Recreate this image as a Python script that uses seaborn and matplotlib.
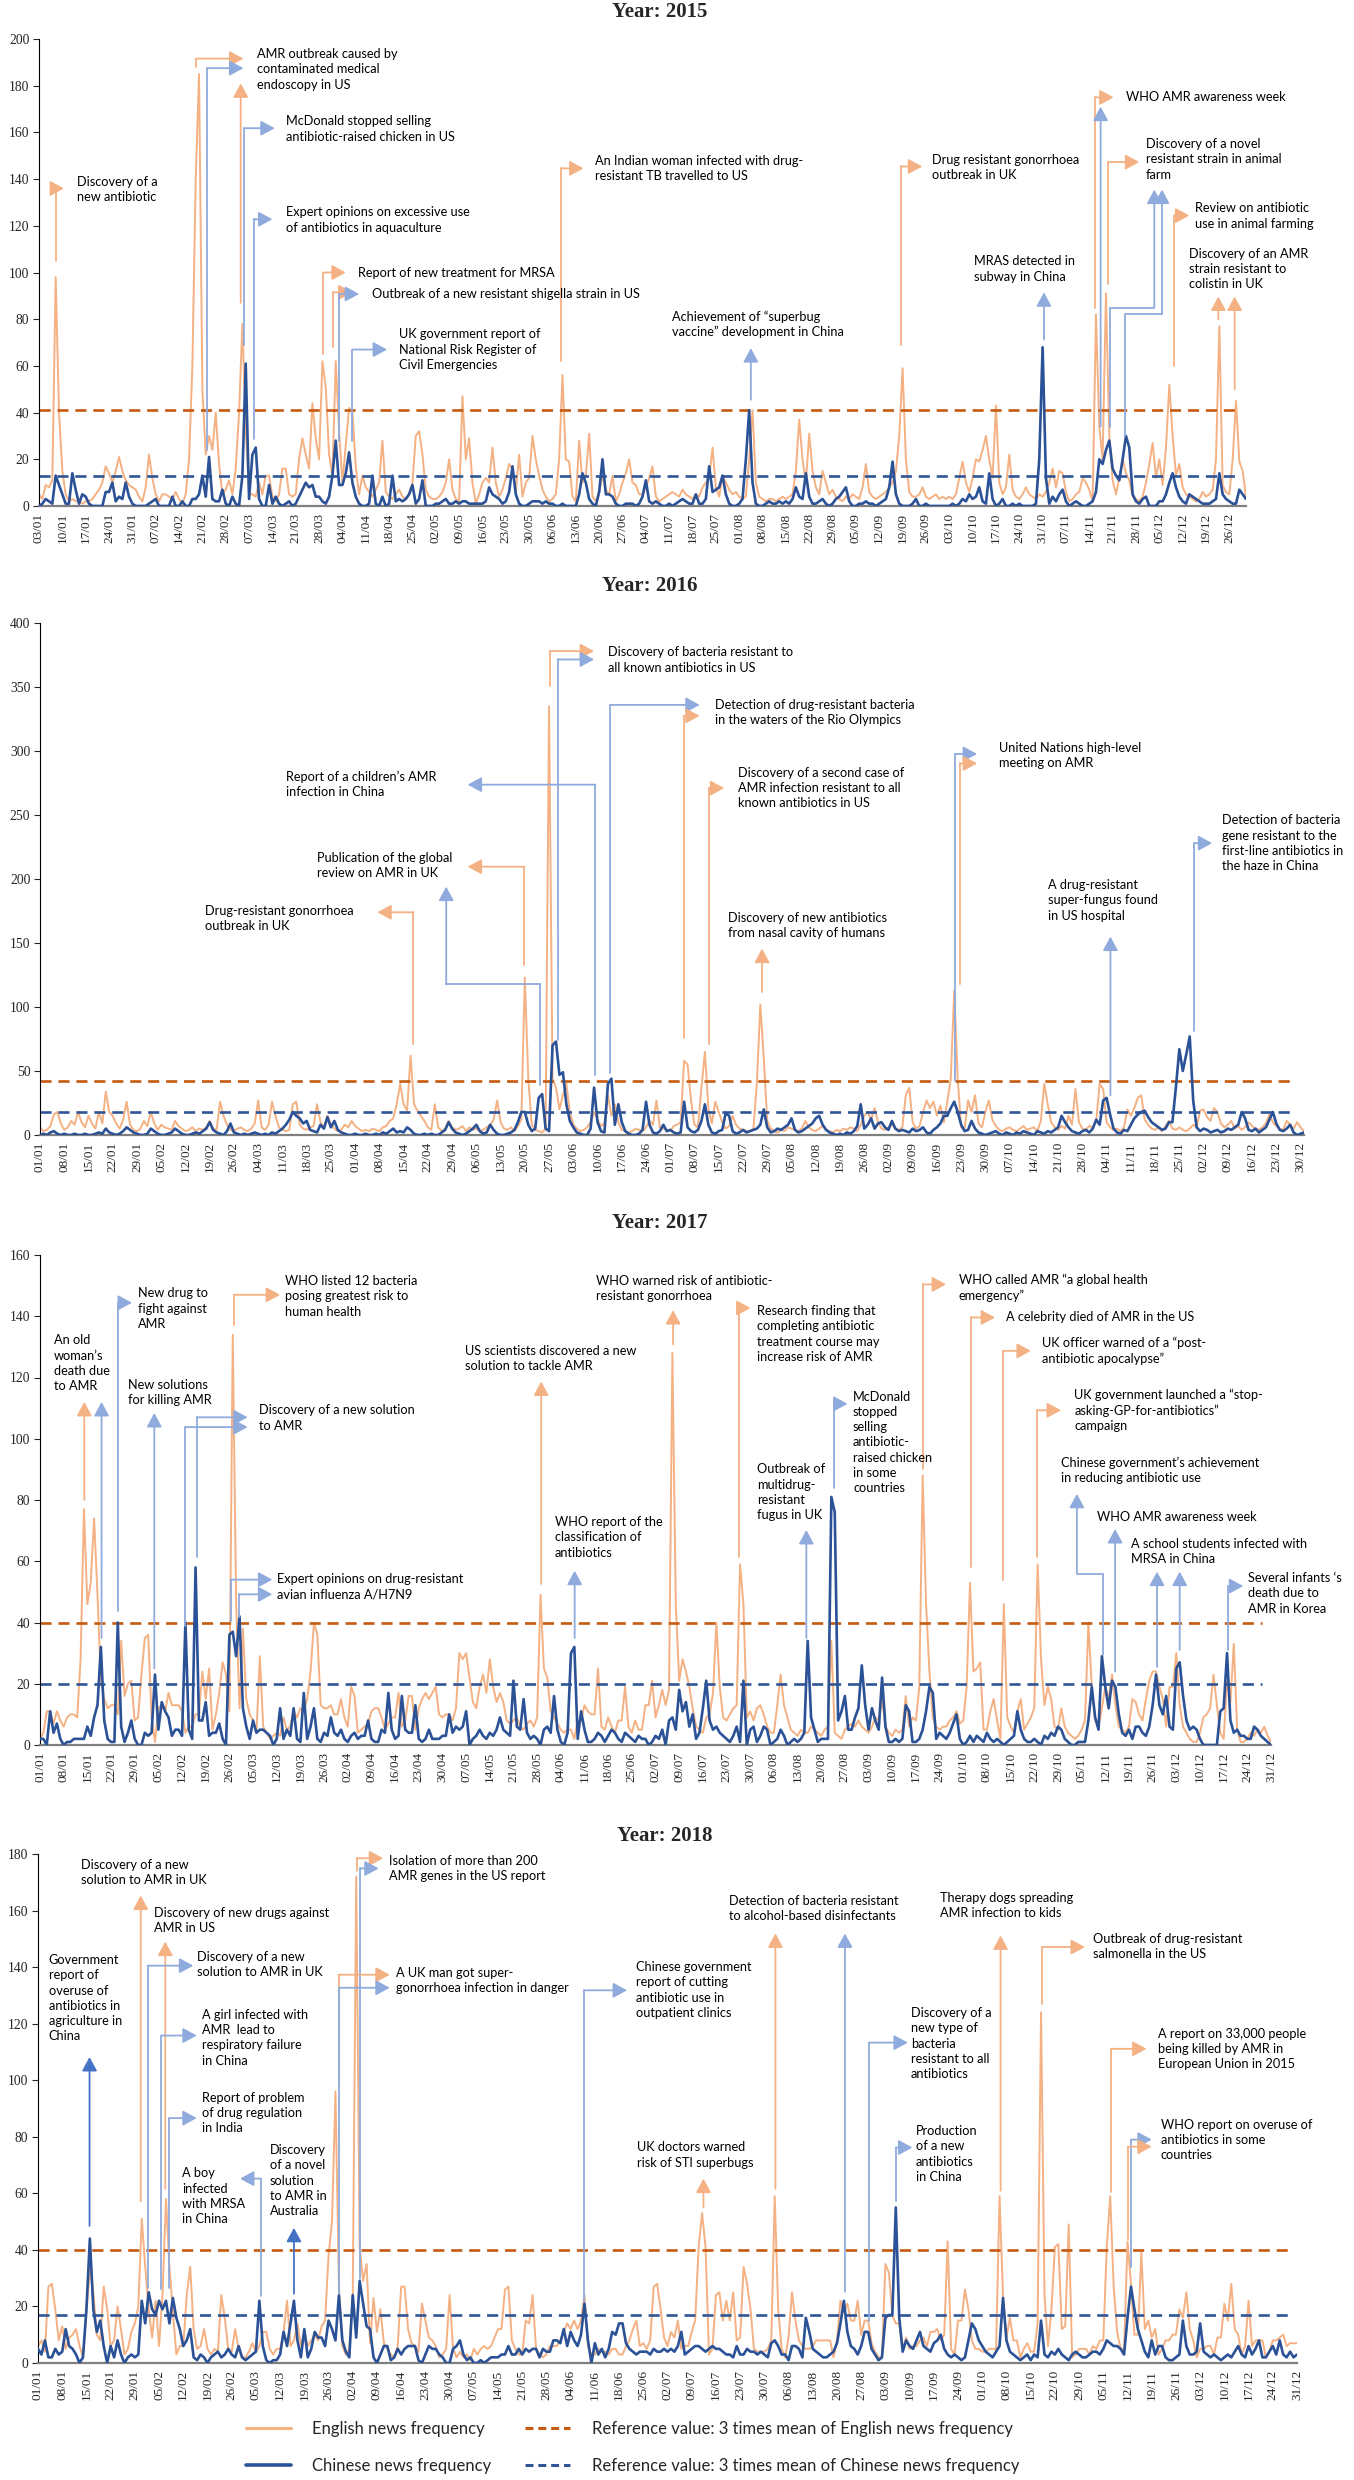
import numpy as np
import pandas as pd
import matplotlib
matplotlib.use("Agg")
import matplotlib.pyplot as plt
import matplotlib.dates as mdates
from matplotlib.lines import Line2D
import seaborn as sns

sns.set_style("white")
plt.rcParams["font.family"] = ["Liberation Serif", "DejaVu Serif"]

# ---- daily news counts ----
# 2015 starts on 03/01, the other years on 01/01
eng_2015 = [
    5, 3, 9, 8, 11, 98, 40, 15, 5, 2,   3, 2, 2, 1, 2, 2, 3, 5, 7, 10,
    17, 14, 10, 15, 21, 15, 11, 9, 8, 7,   4, 2, 8, 22, 12, 5, 2, 5, 5, 4,
    3, 6, 3, 1, 5, 20, 60, 140, 185, 50,   22, 30, 24, 40, 18, 5, 7, 11, 5, 16,
    40, 78, 33, 5, 5, 4, 10, 5, 13, 13,   4, 2, 5, 16, 16, 5, 4, 5, 20, 29,
    22, 16, 44, 29, 20, 62, 51, 22, 13, 62,   32, 10, 26, 42, 40, 17, 5, 13, 8, 6,
    4, 7, 10, 28, 6, 4, 3, 5, 7, 4,   3, 5, 10, 30, 32, 22, 7, 4, 3, 3,
    4, 6, 10, 20, 7, 3, 2, 47, 20, 29,   10, 1, 5, 10, 12, 10, 25, 10, 4, 7,
    12, 18, 16, 6, 22, 4, 10, 12, 30, 20,   13, 7, 4, 2, 3, 5, 20, 56, 20, 19,
    4, 2, 28, 10, 13, 31, 4, 2, 6, 13,   7, 5, 13, 2, 5, 10, 14, 20, 10, 9,
    5, 5, 8, 12, 17, 4, 2, 3, 4, 5,   6, 5, 4, 7, 5, 4, 3, 5, 4, 8,
    10, 12, 25, 8, 4, 13, 10, 7, 5, 6,   4, 3, 4, 20, 41, 10, 4, 3, 2, 3,
    3, 2, 3, 4, 3, 4, 5, 15, 37, 20,   10, 31, 15, 8, 5, 15, 10, 5, 7, 4,
    3, 2, 4, 3, 5, 4, 3, 8, 18, 6,   4, 3, 4, 5, 6, 8, 10, 15, 30, 59,
    20, 6, 4, 4, 5, 8, 4, 3, 4, 5,   3, 4, 3, 4, 3, 5, 12, 19, 10, 6,
    12, 20, 19, 24, 30, 20, 12, 43, 10, 5,   8, 22, 7, 4, 3, 5, 8, 5, 4, 3,
    5, 4, 6, 10, 16, 8, 15, 14, 6, 2,   3, 5, 6, 12, 10, 7, 2, 82, 34, 20,
    91, 30, 11, 5, 12, 20, 14, 11, 4, 3,   2, 4, 10, 18, 27, 12, 20, 9, 25, 52,
    30, 13, 18, 8, 5, 4, 3, 2, 3, 6,   4, 5, 7, 20, 77, 9, 6, 5, 20, 45,
    19, 15, 4,
]
chn_2015 = [
    0, 1, 3, 2, 1, 13, 9, 5, 1, 1,   14, 7, 1, 5, 4, 1, 0, 0, 0, 0,
    6, 6, 10, 2, 4, 3, 10, 4, 1, 0,   0, 0, 0, 1, 2, 3, 0, 0, 0, 0,
    4, 0, 0, 2, 0, 0, 3, 3, 5, 13,   4, 21, 3, 2, 2, 7, 1, 0, 4, 1,
    0, 13, 61, 3, 22, 25, 3, 0, 0, 9,   1, 4, 1, 0, 1, 2, 0, 1, 4, 7,
    10, 8, 9, 4, 4, 2, 1, 4, 13, 28,   9, 9, 14, 23, 10, 4, 1, 0, 0, 1,
    13, 1, 0, 4, 0, 1, 13, 2, 3, 2,   3, 5, 9, 1, 3, 11, 0, 0, 0, 1,
    1, 2, 3, 1, 1, 2, 1, 2, 2, 1,   1, 1, 1, 1, 2, 8, 5, 4, 3, 1,
    2, 6, 17, 5, 1, 0, 0, 1, 2, 2,   2, 1, 2, 1, 1, 0, 0, 1, 0, 0,
    0, 0, 5, 14, 10, 3, 1, 0, 6, 20,   5, 5, 4, 1, 0, 0, 1, 1, 1, 0,
    1, 4, 11, 2, 1, 2, 1, 0, 0, 1,   0, 1, 2, 3, 2, 1, 1, 5, 1, 1,
    3, 17, 6, 7, 8, 13, 5, 1, 0, 0,   1, 3, 20, 41, 10, 1, 0, 0, 1, 2,
    1, 1, 2, 1, 2, 1, 3, 8, 4, 3,   14, 4, 1, 1, 2, 3, 1, 0, 1, 3,
    4, 6, 8, 2, 0, 0, 1, 1, 2, 1,   1, 0, 1, 2, 3, 8, 19, 5, 1, 0,
    0, 0, 1, 3, 0, 0, 1, 0, 0, 0,   0, 0, 0, 0, 1, 0, 1, 3, 2, 5,
    3, 4, 8, 2, 1, 14, 3, 0, 1, 3,   0, 0, 1, 0, 1, 0, 0, 0, 0, 1,
    20, 68, 12, 1, 4, 2, 5, 7, 2, 0,   1, 2, 1, 0, 0, 1, 2, 6,
    20, 18, 24, 28, 16, 13, 11, 20, 30, 25,   5, 2, 1, 3, 4, 0, 0, 0, 2, 2,
    5, 10, 14, 8, 4, 2, 1, 5, 4, 3,   2, 1, 1, 1, 2, 3, 14, 5, 3, 2,
    1, 1, 7, 5, 3,
]
eng_2016 = [
    6, 3, 4, 7, 16, 18, 9, 4, 6, 11,   8, 18, 10, 6, 15, 9, 5, 18, 9, 34,
    18, 15, 9, 5, 12, 26, 8, 4, 3, 5,   11, 7, 18, 9, 4, 8, 6, 5, 4, 11,
    7, 5, 3, 4, 6, 3, 5, 4, 6, 11,   5, 4, 26, 15, 8, 4, 3, 5, 6, 4,
    3, 5, 9, 27, 6, 4, 8, 26, 15, 6,   4, 3, 4, 24, 26, 8, 5, 4, 6, 7,
    24, 10, 6, 15, 8, 5, 3, 4, 8, 6,   11, 7, 5, 3, 4, 3, 5, 4, 3, 6,
    7, 11, 13, 24, 40, 24, 19, 62, 24, 19,   15, 11, 6, 4, 24, 6, 3, 5, 11, 6,
    4, 5, 7, 3, 6, 4, 5, 3, 4, 6,   8, 12, 27, 10, 5, 4, 6, 3, 7, 12,
    123, 44, 8, 4, 3, 2, 5, 335, 44, 37,   20, 31, 40, 18, 8, 5, 3, 4, 6, 10,
    18, 12, 7, 9, 31, 15, 24, 10, 4, 3,   2, 3, 5, 4, 3, 6, 11, 8, 27, 6,
    5, 4, 3, 7, 8, 10, 58, 55, 27, 8,   6, 37, 65, 21, 9, 26, 18, 10, 5, 7,
    15, 8, 5, 4, 3, 3, 5, 40, 102, 60,   11, 5, 3, 2, 4, 3, 6, 5, 4, 3,
    5, 11, 6, 4, 3, 5, 7, 4, 3, 2,   4, 3, 5, 4, 6, 5, 3, 8, 15, 18,
    12, 21, 10, 5, 4, 6, 8, 5, 4, 6,   31, 37, 10, 5, 7, 18, 27, 21, 26, 15,
    23, 10, 26, 44, 113, 44, 6, 5, 27, 18,   31, 9, 6, 18, 27, 12, 7, 4, 3, 5,
    6, 4, 3, 5, 7, 4, 5, 6, 3, 11,   40, 24, 10, 6, 4, 7, 5, 15, 8, 36,
    10, 5, 4, 7, 6, 11, 40, 36, 10, 6,   4, 5, 3, 6, 20, 15, 21, 29, 31, 12,
    8, 5, 4, 6, 3, 7, 11, 5, 4, 6,   4, 3, 5, 8, 6, 19, 20, 14, 11, 21,
    18, 9, 6, 8, 11, 5, 7, 4, 6, 10,   7, 5, 4, 6, 9, 16, 10, 7, 5, 4,
    11, 8, 5, 10, 6, 3,
]
chn_2016 = [
    0, 1, 0, 2, 3, 1, 0, 1, 0, 0,   1, 0, 0, 1, 0, 0, 1, 2, 1, 5,
    2, 1, 0, 1, 3, 6, 4, 2, 1, 0,   0, 1, 5, 3, 1, 0, 0, 1, 2, 5,
    3, 1, 0, 0, 1, 2, 1, 3, 5, 10,   4, 2, 1, 0, 3, 9, 2, 1, 0, 1,
    0, 1, 2, 1, 0, 1, 0, 2, 1, 3,   5, 8, 12, 18, 15, 13, 9, 11, 4, 3,
    2, 8, 5, 14, 6, 11, 4, 2, 1, 0,   0, 1, 0, 0, 1, 0, 0, 1, 0, 2,
    1, 3, 5, 2, 3, 2, 6, 4, 1, 0,   0, 1, 0, 1, 0, 0, 2, 4, 10, 5,
    2, 1, 0, 1, 3, 5, 8, 3, 1, 2,   8, 4, 1, 0, 0, 1, 2, 4, 10, 18,
    18, 8, 3, 5, 29, 32, 5, 3, 70, 73,   47, 49, 24, 11, 6, 2, 1, 0, 0, 5,
    37, 10, 3, 2, 40, 44, 8, 24, 10, 3,   1, 0, 0, 1, 4, 26, 8, 2, 1, 3,
    8, 3, 4, 2, 1, 2, 26, 6, 3, 2,   4, 11, 24, 8, 2, 1, 3, 4, 17, 15,
    3, 1, 2, 4, 2, 3, 4, 5, 8, 20,   6, 2, 3, 5, 4, 6, 8, 13, 4, 2,
    3, 5, 7, 9, 13, 15, 8, 4, 2, 1,   0, 1, 0, 2, 1, 3, 7, 24, 5, 8,
    13, 5, 9, 10, 6, 4, 11, 5, 3, 4,   3, 2, 5, 3, 4, 6, 2, 1, 4, 6,
    9, 15, 15, 21, 26, 18, 8, 3, 4, 11,   5, 2, 1, 0, 1, 2, 3, 1, 0, 2,
    1, 0, 2, 1, 3, 2, 1, 0, 3, 2,   1, 3, 2, 4, 6, 15, 10, 6, 3, 2,
    1, 3, 4, 2, 5, 12, 8, 27, 29, 16,   5, 2, 1, 4, 3, 8, 13, 16, 18, 19,
    14, 10, 8, 6, 4, 5, 10, 10, 37, 67,   50, 63, 77, 27, 6, 3, 5, 4, 2, 3,
    4, 2, 3, 5, 4, 6, 8, 18, 13, 4,   3, 5, 2, 4, 6, 12, 18, 9, 4, 3,
    5, 8, 2, 0, 1, 2,
]
eng_2017 = [
    2, 4, 11, 11, 7, 11, 8, 6, 9, 10,   10, 9, 28, 77, 46, 53, 74, 49, 21, 15,
    12, 13, 13, 10, 34, 16, 20, 21, 8, 9,   23, 35, 36, 9, 1, 12, 13, 11, 17, 13,
    13, 13, 11, 4, 6, 6, 10, 10, 24, 15,   25, 5, 10, 17, 27, 23, 11, 134, 46, 12,
    38, 15, 10, 8, 4, 29, 6, 4, 2, 3,   4, 3, 9, 5, 6, 11, 9, 12, 11, 15,
    24, 40, 36, 13, 12, 12, 13, 10, 10, 15,   9, 6, 19, 16, 4, 5, 6, 7, 11, 12,
    12, 9, 5, 7, 9, 9, 17, 6, 8, 16,   16, 5, 12, 15, 17, 15, 17, 19, 10, 9,
    10, 10, 8, 12, 30, 28, 30, 22, 14, 12,   19, 23, 17, 28, 19, 14, 17, 14, 8, 7,
    8, 9, 6, 5, 7, 8, 6, 9, 49, 25,   22, 11, 9, 7, 5, 4, 5, 5, 2, 8,
    8, 13, 11, 10, 10, 25, 6, 5, 9, 6,   4, 8, 8, 19, 6, 4, 8, 5, 5, 13,
    13, 21, 9, 13, 18, 13, 18, 128, 46, 21,   28, 24, 19, 12, 6, 5, 4, 9, 10, 17,
    40, 19, 9, 8, 10, 12, 13, 59, 46, 9,   11, 8, 12, 13, 10, 6, 4, 4, 13, 23,
    13, 9, 5, 4, 3, 5, 4, 4, 6, 5,   4, 3, 5, 6, 34, 4, 3, 2, 5, 6,
    7, 6, 8, 6, 5, 4, 6, 9, 8, 15,   6, 4, 3, 5, 4, 5, 16, 6, 9, 8,
    19, 88, 46, 24, 9, 6, 5, 6, 6, 8,   9, 11, 7, 8, 19, 53, 24, 25, 27, 5,
    5, 11, 15, 8, 2, 46, 9, 6, 4, 11,   15, 5, 7, 9, 12, 59, 28, 13, 19, 15,
    6, 5, 12, 6, 4, 3, 2, 3, 5, 8,   40, 19, 8, 6, 12, 19, 15, 23, 13, 6,
    5, 4, 6, 15, 14, 10, 8, 15, 21, 24,   24, 19, 15, 6, 19, 19, 30, 13, 6, 4,
    2, 1, 1, 4, 9, 10, 12, 23, 13, 4,   2, 21, 14, 33, 5, 1, 1, 2, 4, 3,
    5, 4, 6, 3, 1,
]
chn_2017 = [
    2, 2, 0, 11, 4, 7, 2, 0, 1, 1,   2, 2, 2, 2, 6, 3, 9, 13, 32, 8,
    2, 1, 1, 40, 6, 1, 4, 8, 2, 0,   0, 4, 3, 4, 23, 5, 14, 11, 9, 3,
    5, 5, 3, 40, 5, 2, 58, 8, 8, 14,   3, 4, 4, 7, 2, 0, 36, 37, 29, 42,
    12, 6, 2, 8, 4, 5, 5, 4, 3, 0,   2, 12, 2, 5, 3, 12, 2, 1, 17, 2,
    6, 12, 2, 1, 4, 3, 9, 4, 3, 5,   2, 1, 3, 4, 2, 3, 3, 8, 2, 1,
    1, 5, 4, 17, 5, 2, 3, 16, 5, 4,   4, 13, 2, 1, 2, 5, 2, 2, 2, 3,
    3, 10, 4, 6, 5, 6, 11, 0, 2, 3,   5, 3, 2, 4, 3, 5, 9, 5, 4, 3,
    21, 6, 5, 15, 4, 2, 3, 2, 0, 5,   6, 4, 16, 5, 1, 0, 4, 30, 32, 2,
    11, 5, 1, 1, 2, 4, 3, 1, 3, 5,   4, 2, 1, 4, 3, 2, 1, 3, 2, 2,
    0, 1, 3, 2, 5, 0, 8, 9, 5, 18,   11, 14, 6, 10, 2, 4, 12, 21, 8, 5,
    6, 4, 3, 2, 1, 3, 6, 1, 21, 0,   5, 6, 1, 3, 6, 5, 0, 1, 2, 5,
    3, 0, 1, 2, 1, 2, 4, 34, 9, 5,   1, 2, 2, 2, 81, 76, 8, 11, 16, 5,
    5, 9, 12, 26, 13, 5, 12, 8, 5, 22,   6, 1, 1, 2, 1, 2, 13, 11, 1, 1,
    2, 5, 11, 19, 17, 2, 4, 3, 2, 4,   7, 10, 2, 0, 1, 3, 1, 3, 2, 1,
    4, 2, 1, 2, 1, 0, 1, 2, 3, 11,   5, 2, 1, 1, 2, 1, 0, 3, 2, 4,
    3, 6, 5, 2, 1, 0, 0, 1, 1, 1,   8, 19, 9, 5, 29, 19, 12, 21, 19, 10,
    4, 3, 5, 2, 6, 6, 4, 3, 6, 13,   23, 13, 10, 16, 6, 5, 25, 27, 16, 8,
    5, 6, 5, 2, 0, 0, 0, 0, 0, 11,   12, 30, 8, 4, 5, 3, 3, 2, 2, 6,
    5, 3, 2, 1, 0,
]
eng_2018 = [
    6, 8, 4, 27, 28, 19, 8, 13, 5, 9,   10, 12, 6, 2, 18, 33, 25, 10, 8, 27,
    19, 6, 8, 20, 12, 3, 5, 11, 14, 20,   51, 34, 19, 9, 22, 6, 24, 58, 34, 18,
    3, 6, 6, 24, 34, 12, 5, 6, 12, 5,   3, 5, 4, 24, 16, 5, 4, 12, 5, 2,
    2, 4, 7, 4, 6, 11, 11, 5, 3, 5,   5, 11, 22, 6, 8, 14, 6, 11, 6, 8,
    10, 8, 13, 15, 38, 50, 96, 27, 6, 3,   5, 24, 172, 41, 29, 35, 7, 23, 11, 19,
    7, 5, 3, 2, 6, 27, 27, 12, 7, 6,   4, 21, 15, 9, 8, 6, 2, 3, 5, 24,
    5, 2, 4, 2, 3, 1, 5, 3, 5, 6,   5, 6, 9, 12, 12, 26, 27, 8, 5, 3,
    3, 15, 14, 24, 5, 3, 2, 3, 6, 6,   6, 8, 11, 14, 12, 15, 12, 15, 24, 6,
    3, 3, 5, 4, 4, 3, 5, 5, 3, 3,   6, 8, 12, 15, 6, 7, 5, 8, 27, 28,
    19, 9, 6, 11, 9, 15, 5, 6, 6, 11,   15, 41, 53, 41, 3, 5, 24, 25, 15, 22,
    15, 25, 8, 9, 34, 28, 19, 5, 4, 4,   4, 5, 8, 59, 19, 5, 2, 9, 25, 15,
    8, 6, 5, 5, 6, 8, 8, 8, 8, 8,   2, 8, 22, 18, 21, 15, 15, 22, 10, 15,
    15, 7, 4, 2, 2, 35, 32, 17, 14, 14,   5, 9, 5, 6, 6, 8, 9, 6, 11, 11,
    12, 8, 10, 43, 5, 3, 15, 15, 26, 19,   8, 5, 5, 4, 4, 5, 5, 5, 59, 24,
    9, 16, 8, 8, 2, 5, 7, 4, 4, 14,   124, 24, 6, 19, 41, 42, 12, 13, 49, 2,
    3, 5, 5, 5, 3, 6, 5, 8, 8, 41,   59, 27, 11, 5, 5, 43, 28, 10, 10, 39,
    12, 15, 9, 12, 3, 5, 8, 8, 10, 10,   19, 16, 25, 12, 8, 2, 5, 5, 6, 6,
    3, 9, 9, 21, 15, 28, 12, 10, 3, 6,   22, 6, 8, 8, 8, 2, 4, 8, 8, 9,
    10, 6, 7, 7, 7,
]
chn_2018 = [
    5, 3, 8, 2, 2, 5, 3, 4, 12, 6,   5, 3, 0, 2, 19, 44, 19, 11, 15, 6,
    0, 6, 2, 8, 3, 0, 2, 3, 2, 3,   22, 14, 25, 19, 17, 22, 19, 22, 14, 23,
    16, 12, 6, 8, 12, 2, 1, 3, 2, 0,   2, 3, 4, 2, 3, 5, 3, 2, 6, 2,
    1, 2, 3, 4, 22, 6, 1, 0, 1, 1,   3, 11, 6, 14, 22, 8, 2, 12, 2, 5,
    11, 9, 9, 6, 15, 12, 8, 24, 8, 4,   2, 24, 9, 29, 21, 13, 12, 2, 0, 3,
    6, 6, 1, 2, 5, 3, 5, 6, 6, 6,   1, 0, 3, 6, 5, 5, 3, 2, 0, 0,
    5, 6, 8, 3, 1, 2, 0, 0, 1, 0,   1, 2, 2, 2, 3, 3, 6, 3, 3, 5,
    3, 5, 4, 5, 5, 2, 5, 4, 4, 8,   8, 7, 12, 6, 11, 8, 6, 10, 21, 8,
    0, 7, 3, 5, 2, 5, 11, 10, 14, 14,   7, 5, 4, 3, 4, 4, 4, 3, 5, 4,
    4, 5, 4, 5, 4, 6, 11, 3, 4, 5,   6, 6, 5, 4, 5, 6, 5, 5, 4, 3,
    3, 2, 6, 3, 3, 5, 4, 4, 3, 4,   3, 2, 7, 8, 6, 3, 3, 1, 6, 6,
    5, 2, 16, 11, 5, 4, 3, 2, 2, 3,   4, 7, 14, 22, 11, 6, 5, 3, 6, 11,
    11, 5, 3, 1, 2, 16, 17, 17, 55, 16,   4, 8, 6, 5, 8, 11, 6, 5, 4, 7,
    8, 10, 5, 3, 2, 3, 2, 1, 2, 8,   14, 12, 8, 6, 4, 3, 2, 4, 6, 23,
    8, 4, 3, 2, 1, 2, 3, 1, 3, 2,   15, 3, 2, 4, 3, 5, 3, 2, 1, 3,
    4, 3, 2, 2, 3, 4, 4, 3, 5, 8,   7, 6, 6, 5, 3, 16, 27, 19, 12, 8,
    4, 2, 8, 3, 6, 6, 2, 1, 1, 2,   3, 15, 6, 3, 3, 4, 14, 4, 3, 2,
    3, 2, 1, 2, 3, 2, 4, 6, 3, 2,   6, 3, 5, 8, 2, 2, 4, 6, 3, 8,
    3, 2, 4, 2, 3,
]

# reference values: 3 times mean of each year's series
eng_ref = {2015: 41, 2016: 42, 2017: 40, 2018: 40}
chn_ref = {2015: 13, 2016: 18, 2017: 20, 2018: 17}

# ---- event annotations: (text, day offset, y) and arrow paths (colour, [(day, y), ...]) ----
O, B, BD = "#F4B183", "#8FAADC", "#4472C4"

notes = {
    2015: [
        ("Discovery of a\nnew antibiotic", 11.3, 135.5),
        ("AMR outbreak caused by\ncontaminated medical\nendoscopy in US", 65.3, 187),
        ("McDonald stopped selling\nantibiotic-raised chicken in US", 74, 161.5),
        ("Expert opinions on excessive use\nof antibiotics in aquaculture", 74, 122.5),
        ("Report of new treatment for MRSA", 95.6, 100),
        ("Outbreak of a new resistant shigella strain in US", 100, 91),
        ("UK government report of\nNational Risk Register of\nCivil Emergencies", 108, 67),
        ("An Indian woman infected with drug-\nresistant TB travelled to US", 166.7, 144.5),
        ("Achievement of \u201csuperbug\nvaccine\u201d development in China", 189.7, 77.8),
        ("Drug resistant gonorrhoea\noutbreak in UK", 267.9, 145),
        ("MRAS detected in\nsubway in China", 280.4, 101.5),
        ("WHO AMR awareness week", 326, 175),
        ("Discovery of a novel\nresistant strain in animal\nfarm", 332, 148.5),
        ("Review on antibiotic\nuse in animal farming", 346.8, 124.2),
        ("Discovery of an AMR\nstrain resistant to\ncolistin in UK", 344.8, 101.5),
    ],
    2016: [
        ("Drug-resistant gonorrhoea\noutbreak in UK", 47.7, 169),
        ("Publication of the global\nreview on AMR in UK", 80, 210.6),
        ("Report of a children\u2019s AMR\ninfection in China", 71, 274),
        ("Discovery of bacteria resistant to\nall known antibiotics in US", 164, 371),
        ("Detection of drug-resistant bacteria\nin the waters of the Rio Olympics", 194.8, 330.3),
        ("Discovery of a second case of\nAMR infection resistant to all\nknown antibiotics in US", 201.6, 271.1),
        ("Discovery of new antibiotics\nfrom nasal cavity of humans", 198.7, 163.8),
        ("United Nations high-level\nmeeting on AMR", 276.8, 296.6),
        ("A drug-resistant\nsuper-fungus found\nin US hospital", 291, 183.4),
        ("Detection of bacteria\ngene resistant to the\nfirst-line antibiotics in\nthe haze in China", 341.4, 228),
    ],
    2017: [
        ("An old\nwoman\u2019s\ndeath due\nto AMR", 4.2, 124.6),
        ("New drug to\nfight against\nAMR", 28.9, 142.5),
        ("New solutions\nfor killing AMR", 25.9, 115),
        ("WHO listed 12 bacteria\nposing greatest risk to\nhuman health", 72.5, 146.5),
        ("Discovery of a new solution\nto AMR", 64.7, 106.8),
        ("Expert opinions on drug-resistant\navian influenza A/H7N9", 70, 51.7),
        ("US scientists discovered a new\nsolution to tackle AMR", 125.7, 126.3),
        ("WHO report of the\nclassification of\nantibiotics", 152.3, 67.8),
        ("WHO warned risk of antibiotic-\nresistant gonorrhoea", 164.5, 149),
        ("Research finding that\ncompleting antibiotic\ntreatment course may\nincrease risk of AMR", 212, 134.2),
        ("McDonald\nstopped\nselling\nantibiotic-\nraised chicken\nin some\ncountries", 240.4, 98.8),
        ("Outbreak of\nmultidrug-\nresistant\nfugus in UK", 212, 82.5),
        ("WHO called AMR \u201ca global health\nemergency\u201d", 271.7, 149.2),
        ("A celebrity died of AMR in the US", 285.7, 139.6),
        ("UK officer warned of a \u201cpost-\nantibiotic apocalypse\u201d", 296.3, 128.7),
        ("UK government launched a \u201cstop-\nasking-GP-for-antibiotics\u201d\ncampaign", 305.8, 109.2),
        ("Chinese government\u2019s achievement\nin reducing antibiotic use", 302, 89.6),
        ("WHO AMR awareness week", 312.6, 74.3),
        ("A school students infected with\nMRSA in China", 322.5, 63.1),
        ("Several infants \u2018s\ndeath due to\nAMR in Korea", 357.1, 49.5),
    ],
    2018: [
        ("Government\nreport of\noveruse of\nantibiotics in\nagriculture in\nChina", 3.1, 129),
        ("Discovery of a new\nsolution to AMR in UK", 12.5, 173.5),
        ("Discovery of new drugs against\nAMR in US", 33.6, 156.6),
        ("Discovery of a new\nsolution to AMR in UK", 45.9, 140.9),
        ("A girl infected with\nAMR  lead to\nrespiratory failure\nin China", 47.4, 115),
        ("Report of problem\nof drug regulation\nin India", 47.4, 88.4),
        ("A boy\ninfected\nwith MRSA\nin China", 41.6, 58.9),
        ("Discovery\nof a novel\nsolution\nto AMR in\nAustralia", 67, 64.5),
        ("Isolation of more than 200\nAMR genes in the US report", 101.4, 174.9),
        ("A UK man got super-\ngonorrhoea infection in danger", 103.4, 135.2),
        ("Chinese government\nreport of cutting\nantibiotic use in\noutpatient clinics", 172.9, 131.9),
        ("UK doctors warned\nrisk of STI superbugs", 173.2, 73.6),
        ("Detection of bacteria resistant\nto alcohol-based disinfectants", 199.9, 160.8),
        ("Discovery of a\nnew type of\nbacteria\nresistant to all\nantibiotics", 252.4, 112.9),
        ("Production\nof a new\nantibiotics\nin China", 253.8, 73.9),
        ("Therapy dogs spreading\nAMR infection to kids", 260.8, 161.7),
        ("Outbreak of drug-resistant\nsalmonella in the US", 305, 147.3),
        ("A report on 33,000 people\nbeing killed by AMR in\nEuropean Union in 2015", 323.7, 111.1),
        ("WHO report on overuse of\nantibiotics in some\ncountries", 324.6, 78.8),
    ],
}

arrows = {
    2015: [
        (O, [(5, 105), (5, 136), (7.5, 136)]),
        (O, [(47, 188), (47, 191.6), (61.3, 191.6)]),
        (B, [(50.5, 24), (50.5, 187.5), (61.3, 187.5)]),
        (O, [(60.5, 87), (60.5, 181)]),
        (B, [(61.5, 69), (61.5, 161.8), (70.7, 161.8)]),
        (B, [(64.4, 28.5), (64.4, 122.8), (70, 122.8)]),
        (O, [(85.3, 65), (85.3, 100), (92, 100)]),
        (O, [(88.3, 68), (88.3, 91.5), (94, 91.5)]),
        (B, [(90, 28), (90, 90.8), (96, 90.8)]),
        (B, [(94, 28), (94, 67), (104.4, 67)]),
        (O, [(156.5, 62), (156.5, 144.6), (163.3, 144.6)]),
        (B, [(213.5, 45.5), (213.5, 67.6)]),
        (O, [(258.6, 69), (258.6, 145.4), (264.9, 145.4)]),
        (B, [(301.4, 71.3), (301.4, 91.5)]),
        (O, [(316.6, 85), (316.6, 175), (322.3, 175)]),
        (B, [(318.4, 34), (318.4, 171)]),
        (O, [(320.6, 95), (320.6, 147.3), (330, 147.3)]),
        (B, [(321.3, 34), (321.3, 85), (334.5, 85), (334.5, 135.5)]),
        (B, [(325.7, 30), (325.7, 82.4), (336.8, 82.4), (336.8, 135.5)]),
        (O, [(340.4, 60), (340.4, 124.4), (345, 124.4)]),
        (O, [(353.7, 80), (353.7, 89.7)]),
        (O, [(358.6, 50), (358.6, 89.7)]),
    ],
    2016: [
        (O, [(107.8, 71), (107.8, 174), (97.4, 174)]),
        (O, [(139.9, 133), (139.9, 209.6), (123.5, 209.6)]),
        (B, [(144.4, 39), (144.4, 117.6), (117.3, 117.6), (117.3, 194)]),
        (B, [(160.4, 47), (160.4, 273.7), (123.5, 273.7)]),
        (O, [(147.2, 351), (147.2, 378), (160, 378)]),
        (B, [(149.7, 74.5), (149.7, 371.5), (160, 371.5)]),
        (B, [(164.7, 48.6), (164.7, 336), (190.5, 336)]),
        (O, [(186, 76), (186, 327.5), (190.5, 327.5)]),
        (O, [(193.1, 71), (193.1, 271), (197.6, 271)]),
        (O, [(208.5, 111.7), (208.5, 145.6)]),
        (B, [(264.2, 42), (264.2, 297.7), (270.6, 297.7)]),
        (O, [(265.8, 118), (265.8, 290.3), (270.6, 290.3)]),
        (B, [(309.1, 31), (309.1, 155)]),
        (B, [(333.3, 81), (333.3, 228), (338.5, 228)]),
    ],
    2017: [
        (O, [(13.1, 80), (13.1, 112)]),
        (B, [(18.2, 35), (18.2, 112)]),
        (B, [(23.2, 43.8), (23.2, 144.4), (27.2, 144.4)]),
        (B, [(33.8, 25), (33.8, 108.4)]),
        (O, [(57.3, 137), (57.3, 147), (71, 147)]),
        (B, [(43, 39), (43, 103.8), (61.4, 103.8)]),
        (B, [(46.4, 61.4), (46.4, 107), (61.4, 107)]),
        (B, [(56.4, 40.4), (56.4, 54), (68.7, 54)]),
        (B, [(58.8, 41.7), (58.8, 49.2), (68.7, 49.2)]),
        (O, [(148.2, 52.6), (148.2, 118.7)]),
        (B, [(158.1, 35), (158.1, 56.9)]),
        (O, [(187.2, 130.8), (187.2, 142)]),
        (O, [(206.8, 61.4), (206.8, 142.7), (210.1, 142.7)]),
        (B, [(234.7, 84), (234.7, 111.4), (238.8, 111.4)]),
        (B, [(226.6, 35), (226.6, 70.2)]),
        (O, [(261.2, 90), (261.2, 150.4), (267.9, 150.4)]),
        (O, [(275.4, 58), (275.4, 139.6), (282.4, 139.6)]),
        (O, [(284.9, 54), (284.9, 128.7), (293, 128.7)]),
        (O, [(294.9, 61.4), (294.9, 109.3), (301.9, 109.3)]),
        (B, [(314.4, 29.5), (314.4, 56), (306.6, 56), (306.6, 82)]),
        (B, [(317.9, 24), (317.9, 70.5)]),
        (B, [(330.3, 25.5), (330.3, 56.6)]),
        (B, [(337, 31), (337, 56.6)]),
        (B, [(351.4, 31), (351.4, 51.9), (355.8, 51.9)]),
    ],
    2018: [
        (BD, [(14.9, 48.5), (14.9, 108.2)]),
        (O, [(29.7, 57.2), (29.7, 165.3)]),
        (O, [(36.8, 61.6), (36.8, 149)]),
        (B, [(31.7, 26.6), (31.7, 140.5), (44.9, 140.5)]),
        (B, [(35.6, 26), (35.6, 115.8), (45.9, 115.8)]),
        (B, [(38, 26.6), (38, 86.6), (45.9, 86.6)]),
        (B, [(64.5, 23.7), (64.5, 65.2), (58.4, 65.2)]),
        (BD, [(74, 24.5), (74, 47.8)]),
        (O, [(92.2, 174), (92.2, 178.5), (99.8, 178.5)]),
        (B, [(93.1, 29.6), (93.1, 174.9), (98.5, 174.9)]),
        (O, [(86.9, 98), (86.9, 137.3), (101.7, 137.3)]),
        (B, [(87.1, 24.5), (87.1, 132.7), (101.7, 132.7)]),
        (B, [(158, 21.6), (158, 131.8), (170.3, 131.8)]),
        (O, [(192.4, 55), (192.4, 65.2)]),
        (O, [(213.2, 61.6), (213.2, 151.9)]),
        (B, [(233.3, 25.2), (233.3, 151.9)]),
        (B, [(240.3, 15), (240.3, 113.3), (251.5, 113.3)]),
        (B, [(248, 57.2), (248, 76.2), (252.8, 76.2)]),
        (O, [(278.3, 60.9), (278.3, 151.2)]),
        (O, [(290.2, 127.1), (290.2, 147.1), (302.7, 147.1)]),
        (O, [(310.2, 60.5), (310.2, 111.1), (320.5, 111.1)]),
        (B, [(316, 34), (316, 79), (322, 79)]),
        (O, [(315.1, 44), (315.1, 76.5), (322, 76.5)]),
    ],
}

ENG_C, CHN_C = "#F4B183", "#2B5196"
ENG_REF_C, CHN_REF_C = "#C55A11", "#2F5597"
TXT_FONT = ["Lato", "DejaVu Sans"]

W, H = 1354, 2480
fig = plt.figure(figsize=(W / 100, H / 100), dpi=100)

# panel geometry in pixels: left, right, top, bottom; title centre
panels = [
    (2015, "2015-01-03", eng_2015, chn_2015, 200, 20, (39, 1246, 39, 506), (660, 12)),
    (2016, "2016-01-01", eng_2016, chn_2016, 400, 50, (40, 1304, 623, 1135), (650, 586)),
    (2017, "2017-01-01", eng_2017, chn_2017, 160, 20, (40, 1271, 1255, 1745), (660, 1223)),
    (2018, "2018-01-01", eng_2018, chn_2018, 180, 20, (38, 1297, 1854, 2363), (665, 1836)),
]


def callout(ax, base, pts, color, lw=1.3):
    xs = [base + p[0] for p in pts]
    ys = [p[1] for p in pts]
    if len(pts) > 2:
        ax.plot(xs[:-1], ys[:-1], color=color, lw=lw, clip_on=False,
                solid_joinstyle="miter", zorder=5)
    ax.annotate("", xy=(xs[-1], ys[-1]), xytext=(xs[-2], ys[-2]),
                arrowprops=dict(arrowstyle="-|>,head_length=0.7,head_width=0.38",
                                color=color, lw=lw, shrinkA=0, shrinkB=0,
                                mutation_scale=12),
                annotation_clip=False, zorder=5)


for year, start, eng, chn, ymax, ystep, (l, r, t, b), (tx, ty) in panels:
    ax = fig.add_axes([l / W, 1 - b / H, (r - l) / W, (b - t) / H])
    dates = pd.date_range(start, periods=len(eng), freq="D")
    df = pd.DataFrame({"date": dates, "English": eng, "Chinese": chn})
    sns.lineplot(data=df, x="date", y="English", ax=ax, color=ENG_C, lw=1.4, zorder=2)
    ax.axhline(eng_ref[year], xmax=0.993, color=ENG_REF_C, lw=1.9, ls=(0, (4.2, 2.6)), zorder=2.5)
    ax.axhline(chn_ref[year], xmax=0.993, color=CHN_REF_C, lw=1.9, ls=(0, (4.2, 2.6)), zorder=2.5)
    sns.lineplot(data=df, x="date", y="Chinese", ax=ax, color=CHN_C, lw=1.9, zorder=3)

    ax.set_xlim(dates[0], dates[-1])
    ax.set_ylim(0, ymax)
    ax.set_xticks(pd.date_range(dates[0], dates[-1], freq="7D"))
    ax.xaxis.set_major_formatter(mdates.DateFormatter("%d/%m"))
    ax.set_yticks(np.arange(0, ymax + 1, ystep))
    ax.tick_params(axis="x", rotation=90, length=0, pad=5, labelsize=9.5)
    ax.tick_params(axis="y", length=4, width=0.8, pad=3, labelsize=9.8, left=True)
    ax.set_xlabel("")
    ax.set_ylabel("")
    for s in ("top", "right"):
        ax.spines[s].set_visible(False)
    ax.spines["left"].set_color("black")
    ax.spines["left"].set_linewidth(0.8)
    ax.spines["bottom"].set_color("#7F7F7F")
    ax.spines["bottom"].set_linewidth(1.6)

    base = mdates.date2num(pd.Timestamp(start))
    for color, pts in arrows[year]:
        callout(ax, base, pts, color)
    for text, x, y in notes[year]:
        ax.text(base + x, y, text, ha="left", va="center", fontsize=9.2,
                family=TXT_FONT, linespacing=1.33, color="black", zorder=6)

    fig.text(tx / W, 1 - ty / H, f"Year: {year}", ha="center", va="center",
             fontsize=15, fontweight="bold", family=["Liberation Serif", "DejaVu Serif"])

handles = [
    Line2D([], [], color=ENG_C, lw=2.2),
    Line2D([], [], color=CHN_C, lw=2.6),
    Line2D([], [], color=ENG_REF_C, lw=2.2, ls=(0, (2.6, 1.6))),
    Line2D([], [], color=CHN_REF_C, lw=2.2, ls=(0, (2.6, 1.6))),
]
labels = [
    "English news frequency",
    "Chinese news frequency",
    "Reference value: 3 times mean of English news frequency",
    "Reference value: 3 times mean of Chinese news frequency",
]
fig.legend(handles, labels, ncol=2, loc="center", bbox_to_anchor=(0.467, 1 - 2447.5 / H),
           frameon=False, prop={"family": TXT_FONT, "size": 12}, handlelength=2.7,
           labelspacing=1.25, columnspacing=2.0, handletextpad=1.3)

fig.savefig("out.png", dpi=100)
